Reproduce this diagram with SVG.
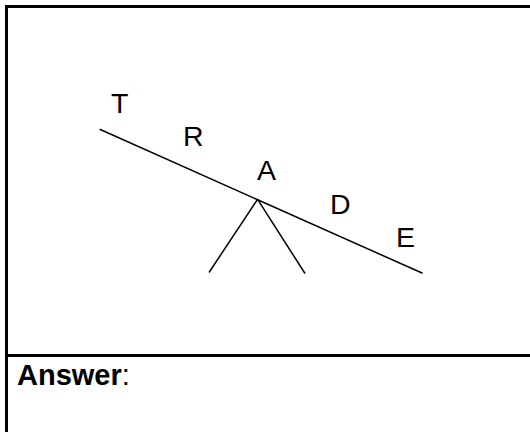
<svg xmlns="http://www.w3.org/2000/svg" width="530" height="432" viewBox="0 0 530 432">
<style>
.frame{stroke:#000;stroke-width:3;fill:none}
.ln{stroke:#000;stroke-width:1.5;fill:none;stroke-linecap:butt}
.lbl{font-family:"Liberation Sans",Arial,sans-serif;font-size:28.5px;fill:#000}
.ans{font-family:"Liberation Sans",Arial,sans-serif;font-size:29px;font-weight:bold;fill:#000}
</style>
<rect width="530" height="432" fill="#fff"/>
<g id="frame">
<rect class="frame" x="6.5" y="6.5" width="530" height="440"/>
<line class="frame" x1="5" y1="355.5" x2="530" y2="355.5"/>
</g>
<g id="connectors">
<line class="ln" x1="99.7" y1="129.3" x2="422.6" y2="273.3"/>
<line class="ln" x1="257.6" y1="199.3" x2="209" y2="272.5"/>
<line class="ln" x1="257.6" y1="199.3" x2="305" y2="273.5"/>
</g>
<g id="node-T"><text class="lbl" x="111" y="113">T</text></g>
<g id="node-R"><text class="lbl" x="183" y="146">R</text></g>
<g id="node-A"><text class="lbl" x="257" y="180">A</text></g>
<g id="node-D"><text class="lbl" x="330" y="214">D</text></g>
<g id="node-E"><text class="lbl" x="396" y="247">E</text></g>
<g id="answer"><text class="ans" x="17" y="385">Answer<tspan font-weight="normal">:</tspan></text></g>
</svg>
